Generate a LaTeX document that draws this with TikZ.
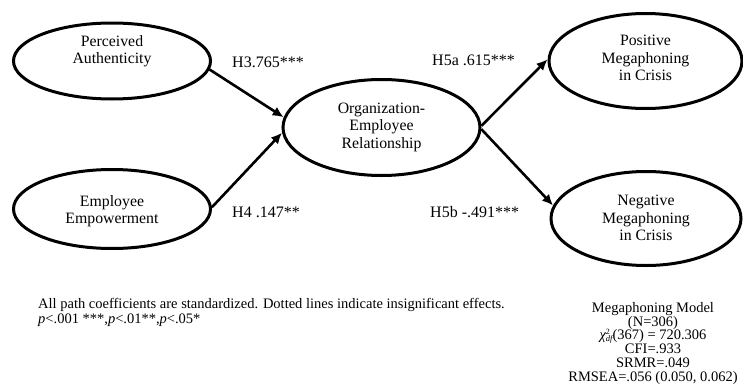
\documentclass[tikz,border=0pt]{standalone}
\usepackage{fontspec}
\setmainfont{Liberation Serif}
\usetikzlibrary{shapes.geometric,arrows.meta}
\tikzset{
  ell/.style={draw, ellipse, line width=3pt, inner sep=0pt},
  lbl/.style={align=center, font=\fontsize{15.8}{17.5}\selectfont, inner sep=0pt},
  path lbl/.style={font=\fontsize{16}{17}\selectfont, inner sep=0pt},
  conn/.style={line width=2.6pt, -{Latex[length=11pt,width=10pt]}},
}
\begin{document}
\begin{tikzpicture}[x=1pt,y=-1pt]
\useasboundingbox (0,0) rectangle (743,388);
% ellipses
\node[ell, minimum width=197pt, minimum height=76pt] (pa) at (112,61) {};
\node[lbl] (patext) at (112,51) {Perceived\\Authenticity};
\node[ell, minimum width=197pt, minimum height=79pt] (ee) at (112,209) {};
\node[lbl] (eetext) at (112,211) {Employee\\Empowerment};
\node[ell, minimum width=197pt, minimum height=96pt] (oer) at (381.5,127.5) {};
\node[lbl] (oertext) at (381.5,127) {Organization-\\Employee\\Relationship};
\node[ell, minimum width=193pt, minimum height=95pt] (pmc) at (645.5,61) {};
\node[lbl] (pmctext) at (645.5,58) {Positive\\Megaphoning\\in Crisis};
\node[ell, minimum width=190pt, minimum height=94pt] (nmc) at (646,218.5) {};
\node[lbl] (nmctext) at (646,218) {Negative\\Megaphoning\\in Crisis};
% connectors
\draw[conn] (pa.-5) -- (oer.174);
\draw[conn] (ee.1) -- (oer.183);
\draw[conn] (oer.1) -- (pmc.179);
\draw[conn] (oer.-1) -- (nmc.172);
% path labels
\node[path lbl, anchor=west] (h3) at (232,62) {H3.765***};
\node[path lbl, anchor=west] (h4) at (232,212) {H4 .147**};
\node[path lbl, anchor=west] (h5a) at (432,60) {H5a .615***};
\node[path lbl, anchor=west] (h5b) at (430,212) {H5b -.491***};
% notes
\node[anchor=north west, align=left, inner sep=0pt, font=\fontsize{14.5}{15}\selectfont] (note) at (38,298)
  {All path coefficients are standardized. Dotted lines indicate insignificant effects.\\
   \textit{p}<.001 ***,\textit{p}<.01**,\textit{p}<.05*};
\node[anchor=north, align=center, inner sep=0pt, font=\fontsize{14.5}{13.8}\selectfont] (fit) at (653,302)
  {Megaphoning Model\\(N=306)\\{\itshape χ}\rlap{\raisebox{0.75ex}{\fontsize{8}{8}\selectfont 2}}\raisebox{-0.25ex}{\fontsize{8.5}{8.5}\selectfont\itshape df}(367) = 720.306\\CFI=.933\\SRMR=.049\\RMSEA=.056 (0.050, 0.062)};
\end{tikzpicture}
\end{document}
